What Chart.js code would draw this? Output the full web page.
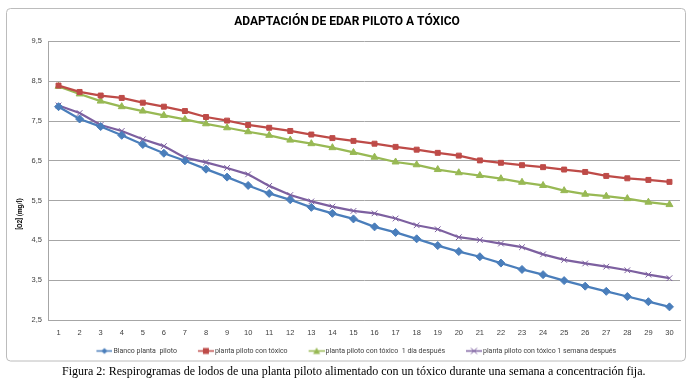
<!DOCTYPE html>
<html>
<head>
<meta charset="utf-8">
<script src="https://cdn.jsdelivr.net/npm/chart.js@4"></script>
<style>
  body { margin: 0; background: #fff; width: 698px; height: 385px; position: relative; overflow: hidden; }
  #chart { position: absolute; left: 0; top: 0; }
  #caption { position: absolute; left: 62px; top: 364px; margin: 0; font-family: "Liberation Serif", "Times New Roman", serif; font-size: 12px; color: #000; white-space: nowrap; }
</style>
</head>
<body>
<canvas id="chart" width="698" height="385"></canvas>
<p id="caption">Figura 2: Respirogramas de lodos de una planta piloto alimentado con un tóxico durante una semana a concentración fija.</p>
<script>
const dias = [1, 2, 3, 4, 5, 6, 7, 8, 9, 10, 11, 12, 13, 14, 15, 16, 17, 18, 19, 20, 21, 22, 23, 24, 25, 26, 27, 28, 29, 30];

const blanco = [7.86, 7.55, 7.36, 7.14, 6.91, 6.69, 6.50, 6.29, 6.09, 5.88,
                5.68, 5.52, 5.33, 5.18, 5.04, 4.84, 4.70, 4.54, 4.37, 4.22,
                4.09, 3.93, 3.77, 3.64, 3.49, 3.35, 3.22, 3.09, 2.96, 2.83];
const conToxico = [8.39, 8.23, 8.14, 8.08, 7.96, 7.86, 7.75, 7.60, 7.51, 7.40,
                   7.33, 7.25, 7.16, 7.07, 7.00, 6.93, 6.85, 6.78, 6.70, 6.63,
                   6.51, 6.45, 6.39, 6.34, 6.28, 6.22, 6.12, 6.06, 6.02, 5.97];
const unDia = [8.37, 8.18, 8.00, 7.86, 7.75, 7.64, 7.54, 7.43, 7.33, 7.23,
               7.14, 7.02, 6.93, 6.83, 6.71, 6.59, 6.47, 6.40, 6.28, 6.20,
               6.13, 6.05, 5.96, 5.88, 5.75, 5.66, 5.61, 5.55, 5.46, 5.40];
const unaSemana = [7.89, 7.70, 7.40, 7.25, 7.04, 6.87, 6.58, 6.46, 6.32, 6.16,
                   5.87, 5.64, 5.48, 5.35, 5.24, 5.18, 5.05, 4.88, 4.78, 4.58,
                   4.51, 4.42, 4.33, 4.15, 4.01, 3.92, 3.84, 3.75, 3.64, 3.55];

const nombres = ["Blanco planta  piloto", "planta piloto con tóxico", "planta piloto con tóxico  1 día después", "planta piloto con tóxico 1 semana después"];
const yTicks = [2.5, 3.5, 4.5, 5.5, 6.5, 7.5, 8.5, 9.5];
const yTitulo = "[O2] (mg/l)";

const colores = ["#4A7EBB", "#BE4B48", "#98B954", "#7D60A0"];
const marcas = ["rectRot", "rect", "triangle", "crossRot"];

// line + marker image for the legend (excel style), line sits at the right of the box
function legendIcon(color, marca) {
    const c = document.createElement("canvas");
    c.width = 37; c.height = 9;
    const g = c.getContext("2d");
    g.strokeStyle = color; g.fillStyle = color;
    g.lineWidth = 1.5;
    g.beginPath(); g.moveTo(21, 4.5); g.lineTo(37, 4.5); g.stroke();
    const cx = 29;
    g.beginPath();
    if (marca === "rectRot") {
        g.moveTo(cx, 1.5); g.lineTo(cx + 3, 4.5); g.lineTo(cx, 7.5); g.lineTo(cx - 3, 4.5); g.closePath(); g.fill();
    } else if (marca === "rect") {
        g.fillRect(cx - 3, 1.5, 6, 6);
    } else if (marca === "triangle") {
        g.moveTo(cx, 1); g.lineTo(cx + 3.5, 7.5); g.lineTo(cx - 3.5, 7.5); g.closePath(); g.fill();
    } else {
        g.lineWidth = 1;
        g.moveTo(cx - 3, 1.5); g.lineTo(cx + 3, 7.5); g.moveTo(cx + 3, 1.5); g.lineTo(cx - 3, 7.5); g.stroke();
    }
    return c;
}

const series = [blanco, conToxico, unDia, unaSemana];
const datasets = series.map((vals, i) => ({
    label: nombres[i],
    data: vals,
    borderColor: colores[i],
    backgroundColor: colores[i],
    pointBackgroundColor: colores[i],
    pointBorderColor: colores[i],
    borderWidth: 2.25,
    pointStyle: marcas[i],
    pointRadius: marcas[i] === "rect" ? 3.5 : 4,
    pointBorderWidth: 1,
    tension: 0
}));

const frame = {
    id: "frame",
    beforeDraw(chart) {
        const g = chart.ctx;
        g.save();
        g.fillStyle = "#fff";
        g.fillRect(0, 0, chart.width, chart.height);
        g.strokeStyle = "#bcbcbc";
        g.lineWidth = 1;
        g.beginPath();
        g.roundRect(6.5, 8.5, 679, 352.5, 4);
        g.stroke();
        g.restore();
    },
    afterDraw(chart) {
        // excel puts the axis title a bit below the middle
        const g = chart.ctx;
        g.save();
        g.translate(20, 214);
        g.rotate(-Math.PI / 2);
        g.font = "bold 6.5px Roboto";
        g.fillStyle = "#000";
        g.textAlign = "center";
        g.textBaseline = "middle";
        g.fillText(yTitulo, 0, 0);
        g.restore();
    }
};

new Chart(document.getElementById("chart"), {
    type: "line",
    data: { labels: dias, datasets: datasets },
    plugins: [frame],
    options: {
        responsive: false,
        animation: false,
        layout: { padding: { left: 14, right: 18, top: 8, bottom: 20.5 } },
        scales: {
            x: {
                offset: true,
                grid: { display: false, drawTicks: false },
                border: { color: "#a6a6a6", width: 1 },
                ticks: { color: "#404040", font: { family: "Liberation Sans", size: 7.5 }, padding: 8, maxRotation: 0, autoSkip: false }
            },
            y: {
                min: 2.5,
                max: 9.5,
                afterBuildTicks: s => { s.ticks = yTicks.map(v => ({ value: v })); },
                grid: { color: "#a6a6a6", drawTicks: false },
                border: { color: "#a6a6a6", width: 1 },
                ticks: {
                    color: "#404040", font: { family: "Liberation Sans", size: 7.5 }, padding: 6,
                    callback: v => v.toFixed(1).replace(".", ",")
                },
                afterFit: s => { s.width = 34; }
            }
        },
        plugins: {
            title: {
                display: true,
                text: "ADAPTACIÓN DE EDAR PILOTO A TÓXICO",
                color: "#000",
                font: { family: "Roboto", size: 12, weight: "bold" },
                padding: { top: 7, bottom: 12 }
            },
            legend: {
                position: "bottom",
                labels: {
                    usePointStyle: true,
                    pointStyleWidth: 32,
                    boxHeight: 7,
                    padding: 2.5,
                    color: "#404040",
                    font: { family: "Roboto", size: 7 },
                    generateLabels: chart => chart.data.datasets.map((ds, i) => ({
                        text: ds.label,
                        fillStyle: ds.borderColor,
                        strokeStyle: ds.borderColor,
                        fontColor: "#404040",
                        lineWidth: 0,
                        pointStyle: legendIcon(colores[i], marcas[i]),
                        datasetIndex: i
                    }))
                }
            },
            tooltip: { enabled: false }
        }
    }
});
</script>
</body>
</html>
